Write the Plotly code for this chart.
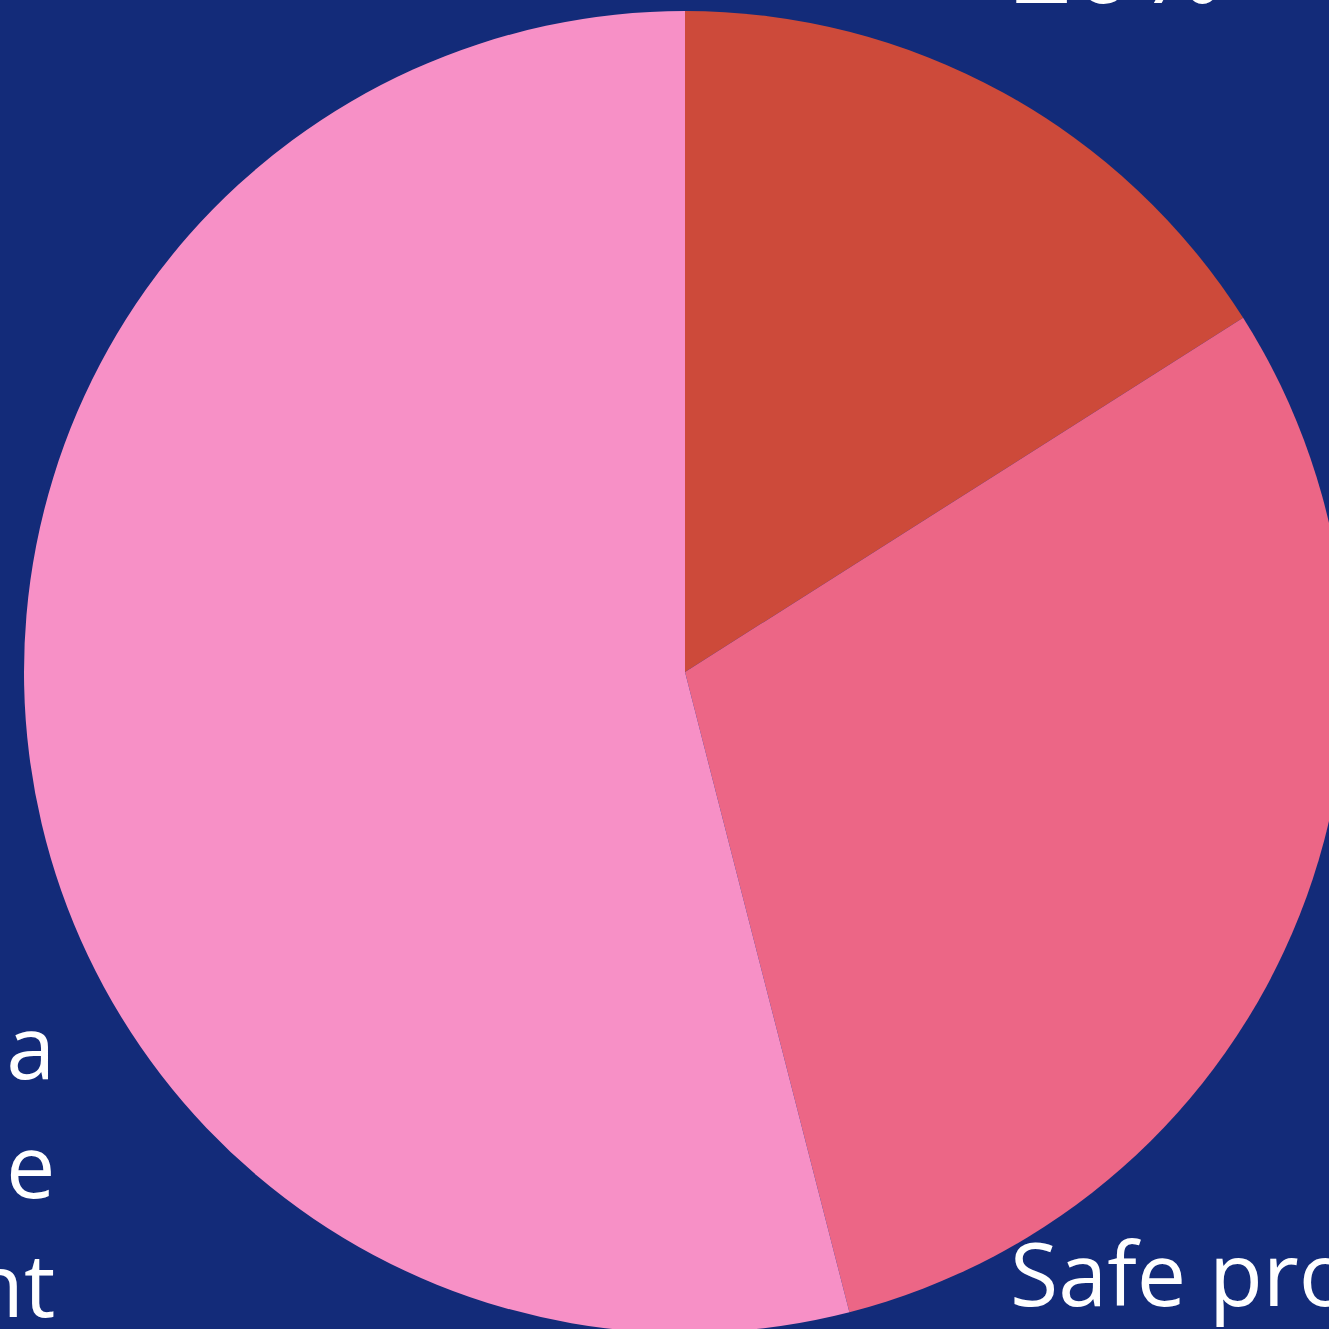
import plotly.graph_objects as go

# Data
categories = ["Less safe", "Safe procedure", "Least safe"]
shares = [16, 30, 54]
label_lines = [
    ["Less safe:", "by trained provider", "using an outdated method"],
    ["Safe procedure", "by trained provider"],
    ["Least safe: performed by a", "person using a dangerous technique", "without a trained attendant"],
]
pct_labels = ["20%", "30%", "54%"]
colors = ["#CD4A3A", "#EC6686", "#F790C6"]
bg = "#132B79"

W, H = 1370, 1345
LINE = 119
FS = 88
PFS = 108

def px(x):
    return x / W

def py(y):
    return 1 - y / H

fig = go.Figure(
    go.Pie(
        labels=categories,
        values=shares,
        sort=False,
        direction="clockwise",
        rotation=0,
        marker=dict(colors=colors, line=dict(width=0)),
        textinfo="none",
        hoverinfo="skip",
        showlegend=False,
        domain=dict(x=[0, 1], y=[12 / H, 1334 / H]),
    )
)

font = dict(family="Open Sans", size=FS, color="white")
pfont = dict(family="Open Sans", size=PFS, color="white")

# (x anchor pixel, side, baseline of the percentage line)
placements = [
    (1009, "left", -1),
    (1008, "left", 1302 + 2 * LINE + 10),
    (57, "right", 1075 + 3 * LINE + 10),
]
for lines, pct, (x0, side, pbase) in zip(label_lines, pct_labels, placements):
    n = len(lines)
    for i, line in enumerate(lines):
        baseline = pbase - 10 - (n - i) * LINE
        fig.add_annotation(
            x=px(x0), y=py(baseline - 92 * FS / 88), xref="paper", yref="paper",
            text=line, showarrow=False, xanchor=side, yanchor="top",
            align=side, font=font,
        )
    fig.add_annotation(
        x=px(x0), y=py(pbase - 92 * PFS / 88), xref="paper", yref="paper",
        text=pct, showarrow=False, xanchor=side, yanchor="top",
        align=side, font=pfont,
    )

fig.update_layout(
    width=W, height=H,
    margin=dict(l=0, r=0, t=0, b=0),
    paper_bgcolor=bg, plot_bgcolor=bg,
)

fig.write_html(
    "out.html",
    config={"displayModeBar": False},
    post_script="document.body.style.margin='0';document.body.style.overflow='hidden';"
                "document.body.style.background='" + bg + "';",
)
